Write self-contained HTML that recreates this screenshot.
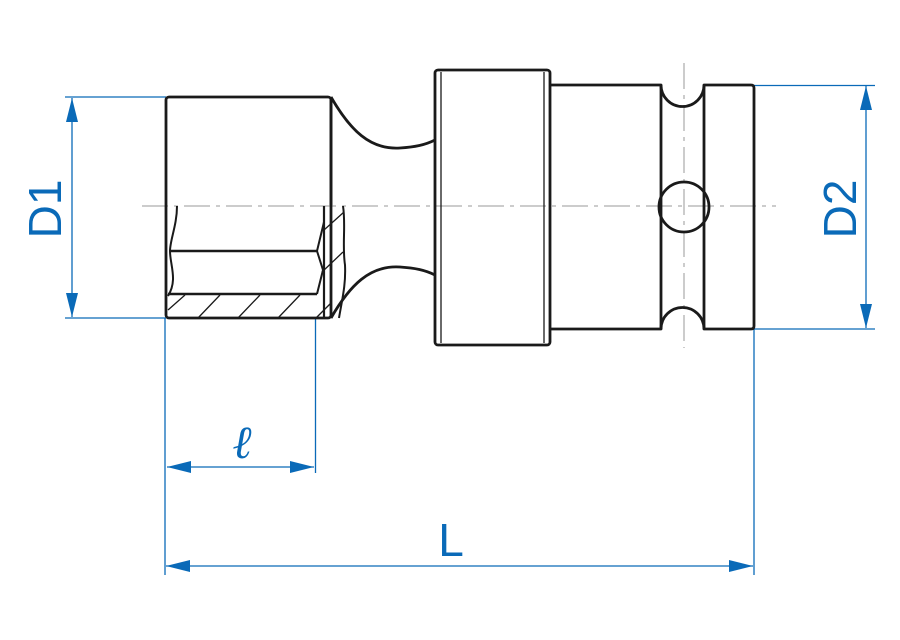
<!DOCTYPE html>
<html><head><meta charset="utf-8"><style>html,body{margin:0;padding:0;background:#fff}svg{display:block}</style></head>
<body>
<svg width="900" height="640" viewBox="0 0 900 640" xmlns="http://www.w3.org/2000/svg">
<defs>
<marker id="a" viewBox="0 0 24 12" refX="24" refY="6" markerWidth="24" markerHeight="12" markerUnits="userSpaceOnUse" orient="auto-start-reverse"><path d="M0,0 L24,6 L0,12 Z" fill="#0a6ab8"/></marker>
</defs>
<g stroke="#999" stroke-width="1" fill="none">
<line x1="142" y1="206" x2="776" y2="206" stroke-dasharray="26,6,4,6"/>
<line x1="684" y1="63" x2="684" y2="348" stroke-dasharray="26,6,4,6"/>
</g>
<g stroke="#0a6ab8" stroke-width="1.3" fill="none">
<line x1="65" y1="97" x2="166" y2="97"/>
<line x1="65" y1="318" x2="166" y2="318"/>
<line x1="72" y1="98" x2="72" y2="317" marker-start="url(#a)" marker-end="url(#a)"/>
<line x1="754" y1="85.5" x2="875" y2="85.5"/>
<line x1="754" y1="329" x2="875" y2="329"/>
<line x1="866" y1="86" x2="866" y2="328" marker-start="url(#a)" marker-end="url(#a)"/>
<line x1="165" y1="318" x2="165" y2="575"/>
<line x1="315.5" y1="318" x2="315.5" y2="473"/>
<line x1="754" y1="329" x2="754" y2="575"/>
<line x1="167" y1="467" x2="314" y2="467" marker-start="url(#a)" marker-end="url(#a)"/>
<line x1="166" y1="566" x2="753" y2="566" marker-start="url(#a)" marker-end="url(#a)"/>
</g>
<g fill="#0a6ab8" font-family="Liberation Sans, sans-serif">
<text x="0" y="0" font-size="46" text-anchor="middle" transform="translate(61,209) rotate(-90)">D1</text>
<text x="0" y="0" font-size="46" text-anchor="middle" transform="translate(856,209) rotate(-90)">D2</text>
<text x="451" y="556" font-size="46" text-anchor="middle">L</text>
<text x="242" y="458" font-size="46" font-style="italic" text-anchor="middle" font-family="Liberation Serif, serif">ℓ</text>
</g>
<g stroke="#1a1a1a" stroke-width="2.8" fill="none" stroke-linejoin="round">
<rect x="166" y="97" width="165" height="221" rx="3"/>
<line x1="331" y1="97" x2="331" y2="205"/>
<path d="M331,97 C350,130 370,150 400,148 C415,147 425,145 435,140"/>
<path d="M331,318 C350,285 370,265 400,267 C415,268 425,270 435,275"/>
<rect x="435" y="70" width="115" height="275" rx="3"/>
<path d="M550,85 H661 A20,20 0 0 0 704,85 H751 Q754,85 754,88 V326 Q754,329 751,329 H704 A20,20 0 0 0 661,329 H550"/>
<line x1="661" y1="85" x2="661" y2="329"/>
<line x1="704" y1="85" x2="704" y2="329"/>
<circle cx="684" cy="207" r="25"/>
<path d="M177,206 C177,225 170,240 170,251 C170,265 178,280 168,296" stroke-width="2"/>
<line x1="170" y1="251" x2="317" y2="251" stroke-width="2.4"/>
<line x1="168" y1="294" x2="317" y2="294" stroke-width="2.4"/>
<line x1="324" y1="206" x2="324" y2="318" stroke-width="2.2"/>
<path d="M324,222 L317,251 L323,270 L317,294" stroke-width="2"/>
<path d="M343,206 C346,225 342,245 345,265 C346,285 342,300 339,318" stroke-width="2"/>
</g>
<g stroke="#1a1a1a" stroke-width="1.3" fill="none">
<line x1="441" y1="72" x2="441" y2="343"/>
<line x1="544" y1="72" x2="544" y2="343"/>
<line x1="168" y1="310" x2="185" y2="295"/>
<line x1="198" y1="318" x2="220" y2="295"/>
<line x1="238" y1="318" x2="260" y2="295"/>
<line x1="278" y1="318" x2="300" y2="295"/>
<line x1="316" y1="318" x2="331" y2="303"/>
<line x1="322" y1="272" x2="343" y2="252"/>
<line x1="324" y1="230" x2="344" y2="212"/>
</g>
</svg>
</body></html>
